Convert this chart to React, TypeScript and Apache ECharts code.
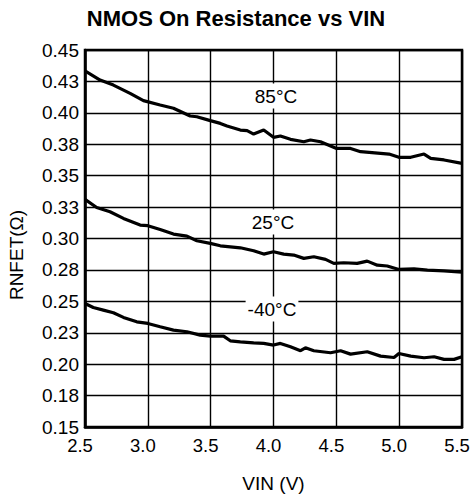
import React, { useEffect, useRef } from "react";
import * as echarts from "echarts";

const vin85 = [2.5, 2.62, 2.726, 2.859, 2.965, 3.098, 3.204, 3.337, 3.39, 3.497, 3.577, 3.63, 3.736, 3.79, 3.842, 3.922, 4.0, 4.055, 4.135, 4.241, 4.294, 4.374, 4.502, 4.613, 4.693, 4.852, 4.919, 4.998, 5.092, 5.198, 5.251, 5.357, 5.5];
const r85 = [0.4333, 0.4261, 0.4221, 0.4155, 0.4097, 0.4062, 0.4036, 0.3975, 0.3969, 0.3938, 0.3916, 0.3895, 0.3863, 0.3858, 0.3831, 0.3863, 0.3805, 0.3816, 0.3789, 0.377, 0.3784, 0.377, 0.3717, 0.3717, 0.3691, 0.3678, 0.3672, 0.3646, 0.3646, 0.3672, 0.3638, 0.3625, 0.3598];

const vin25 = [2.5, 2.593, 2.699, 2.806, 2.939, 3.0, 3.098, 3.204, 3.311, 3.39, 3.497, 3.577, 3.736, 3.842, 3.922, 4.0, 4.081, 4.161, 4.241, 4.321, 4.414, 4.48, 4.559, 4.666, 4.746, 4.826, 4.905, 4.998, 5.118, 5.225, 5.357, 5.5];
const r25 = [0.3311, 0.3247, 0.3213, 0.316, 0.3107, 0.3102, 0.3072, 0.3035, 0.3019, 0.2982, 0.2961, 0.2942, 0.2926, 0.2903, 0.2876, 0.2895, 0.2876, 0.2868, 0.2842, 0.2855, 0.2834, 0.2802, 0.2807, 0.2802, 0.282, 0.2788, 0.2781, 0.2754, 0.2759, 0.2749, 0.2743, 0.2733];

const vinM40 = [2.5, 2.566, 2.646, 2.726, 2.806, 2.912, 3.0, 3.098, 3.204, 3.311, 3.417, 3.497, 3.603, 3.656, 3.736, 3.842, 3.922, 4.0, 4.055, 4.135, 4.215, 4.254, 4.321, 4.454, 4.534, 4.613, 4.746, 4.852, 4.959, 4.998, 5.092, 5.198, 5.278, 5.357, 5.437, 5.5];
const rM40 = [0.2483, 0.2451, 0.243, 0.2409, 0.2372, 0.2337, 0.2324, 0.2298, 0.2271, 0.2258, 0.2231, 0.2223, 0.2223, 0.2186, 0.2178, 0.217, 0.2165, 0.2152, 0.2165, 0.2138, 0.2107, 0.213, 0.2107, 0.2091, 0.2107, 0.208, 0.2099, 0.2064, 0.2053, 0.2085, 0.2064, 0.2051, 0.2059, 0.2038, 0.2038, 0.2059];

const yTickLabels = ["0.15", "0.18", "0.20", "0.23", "0.25", "0.28", "0.30", "0.33", "0.35", "0.38", "0.40", "0.43", "0.45"];
const seriesNames = ["85°C", "25°C", "-40°C"];

const FONT = "'Liberation Sans', Arial, Helvetica, sans-serif";

function pairs(xs: number[], ys: number[]) {
  return xs.map((x, i) => [x, ys[i]]);
}

export default function App() {
  const ref = useRef<HTMLDivElement>(null);
  useEffect(() => {
    if (!ref.current) return;
    const chart = echarts.init(ref.current, null, { renderer: "svg" });
    const lineStyle = { color: "#000", width: 3.2 };
    const labelBox = (text: string, x: number, y: number) => ({
      type: "text",
      x,
      y,
      z: 100,
      style: {
        text,
        x: 0,
        y: 0,
        align: "center",
        verticalAlign: "middle",
        fontFamily: FONT,
        fontSize: 19,
        fill: "#000",
        backgroundColor: "#fff",
        padding: [3, 2, 3, 2],
      },
    });
    chart.setOption({
      animation: false,
      backgroundColor: "#fff",
      title: {
        text: "NMOS On Resistance vs VIN",
        left: "center",
        top: 2,
        textStyle: { fontFamily: FONT, fontSize: 22, fontWeight: "bold", color: "#000" },
      },
      grid: {
        left: 85,
        right: 10,
        top: 50,
        bottom: 74,
        show: true,
        borderColor: "#000",
        borderWidth: 2.5,
        containLabel: false,
        outerBoundsMode: "none",
      },
      xAxis: {
        type: "value",
        min: 2.5,
        max: 5.5,
        interval: 0.5,
        name: "VIN (V)",
        nameLocation: "middle",
        nameGap: 47,
        nameTextStyle: { fontFamily: FONT, fontSize: 19, color: "#000" },
        axisLine: { show: true, lineStyle: { color: "#000", width: 2.5 } },
        axisTick: { show: false },
        splitLine: { show: true, lineStyle: { color: "#000", width: 1.4 } },
        axisLabel: {
          fontFamily: FONT,
          fontSize: 18.5,
          color: "#000",
          margin: 9,
          padding: [0, 10, 0, 0],
          formatter: (v: number) => v.toFixed(1),
        },
      },
      yAxis: {
        type: "value",
        min: 0.15,
        max: 0.45,
        interval: 0.025,
        axisLine: { show: true, lineStyle: { color: "#000", width: 2.5 } },
        axisTick: { show: false },
        splitLine: { show: true, lineStyle: { color: "#000", width: 1.4 } },
        axisLabel: {
          fontFamily: FONT,
          fontSize: 19,
          color: "#000",
          margin: 6,
          formatter: (v: number) => yTickLabels[Math.round((v - 0.15) / 0.025)] ?? "",
        },
      },
      graphic: [
        {
          type: "text",
          x: 16,
          y: 255,
          rotation: Math.PI / 2,
          style: {
            text: "RNFET(Ω)",
            x: 0,
            y: 0,
            align: "center",
            verticalAlign: "middle",
            fontFamily: FONT,
            fontSize: 19,
            fill: "#000",
          },
        },
        labelBox(seriesNames[0], 276, 96),
        labelBox(seriesNames[1], 273, 222),
        labelBox(seriesNames[2], 272, 309),
      ],
      series: [
        { name: seriesNames[0], type: "line", data: pairs(vin85, r85), showSymbol: false, symbol: "none", lineStyle, z: 5 },
        { name: seriesNames[1], type: "line", data: pairs(vin25, r25), showSymbol: false, symbol: "none", lineStyle, z: 5 },
        { name: seriesNames[2], type: "line", data: pairs(vinM40, rM40), showSymbol: false, symbol: "none", lineStyle, z: 5 },
      ],
    });
    return () => chart.dispose();
  }, []);
  return (
    <div
      ref={ref}
      style={{ position: "fixed", left: 0, top: 0, width: 472, height: 501 }}
    />
  );
}
